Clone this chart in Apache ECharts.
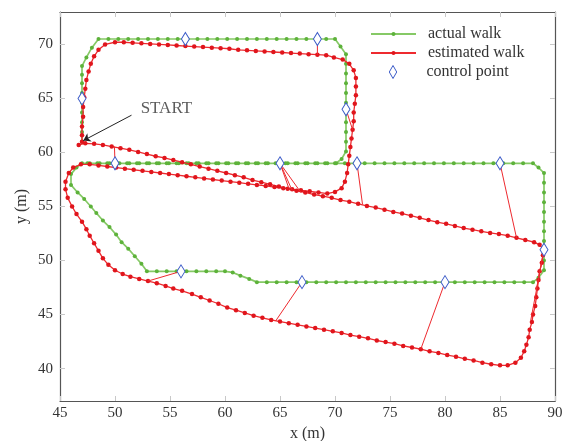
<!DOCTYPE html>
<html><head><meta charset="utf-8">
<script src="https://cdn.jsdelivr.net/npm/echarts@6/dist/echarts.min.js"></script>
<style>html,body{margin:0;padding:0;background:#fff}#c{width:563px;height:441px}</style>
</head><body><div id="c"></div>
<script>
const xTicks = [45, 50, 55, 60, 65, 70, 75, 80, 85, 90];
const yTicks = [40, 45, 50, 55, 60, 65, 70];

const actualWalk = [
[47,61.0],[47,61.9],[47,62.8],[47,63.7],[47,64.6],[47,65.5],[47,66.4],[47,67.2],[47,68.0],[47.4,68.8],[47.9,69.7],[48.5,70.5],
[49.4,70.5],[50.3,70.5],[51.2,70.5],[52.1,70.5],[53.0,70.5],[53.9,70.5],[54.8,70.5],[55.7,70.5],[56.6,70.5],[57.5,70.5],[58.4,70.5],[59.3,70.5],[60.2,70.5],[61.1,70.5],[62.0,70.5],[62.9,70.5],[63.8,70.5],[64.7,70.5],[65.6,70.5],[66.5,70.5],[67.4,70.5],[68.3,70.5],[69.2,70.5],[70.0,70.5],
[70.5,69.8],[71,69.1],[71,68.2],[71,67.3],[71,66.4],[71,65.5],[71,64.6],[71,63.7],[71,62.8],[71,61.9],[71,61.0],[71,60.1],[70.6,59.4],[70.1,59.0],
[69.3,59],[68.4,59],[67.5,59],[66.6,59],[65.7,59],[64.8,59],[63.9,59],[63.0,59],[62.1,59],[61.2,59],[60.3,59],[59.4,59],[58.5,59],[57.6,59],[56.7,59],[55.8,59],[54.9,59],[54.0,59],[53.1,59],[52.2,59],[51.3,59],[50.4,59],[49.5,59],[48.6,59],[47.7,59],[47.0,59.0],
[46.5,58.6],[46.0,58.0],[46.0,57.0],
[46.6,56.3],[47.2,55.7],[47.8,55.0],[48.3,54.4],[48.9,53.7],[49.5,53.1],[50.1,52.4],[50.6,51.7],[51.2,51.1],[51.8,50.4],[52.4,49.7],[52.9,49.0],
[53.8,49],[54.7,49],[55.6,49],[56.5,49],[57.4,49],[58.3,49],[59.2,49],[60.0,49],[60.7,48.9],[61.4,48.6],[62.2,48.3],[62.9,48.0],
[63.8,48],[64.7,48],[65.6,48],[66.5,48],[67.4,48],[68.3,48],[69.2,48],[70.1,48],[71.0,48],[71.9,48],[72.8,48],[73.7,48],[74.6,48],[75.5,48],[76.4,48],[77.3,48],[78.2,48],[79.1,48],[80.0,48],[80.9,48],[81.8,48],[82.7,48],[83.6,48],[84.5,48],[85.4,48],[86.3,48],[87.2,48],[88.0,48.0],
[88.5,48.4],[89,49.1],[89,50.0],[89,50.9],[89,51.8],[89,52.7],[89,53.6],[89,54.5],[89,55.4],[89,56.3],[89,57.2],[89,58.1],[88.5,58.6],[88.0,59.0],
[87.1,59],[86.2,59],[85.3,59],[84.4,59],[83.5,59],[82.6,59],[81.7,59],[80.8,59],[79.9,59],[79.0,59],[78.1,59],[77.2,59],[76.3,59],[75.4,59],[74.5,59],[73.6,59],[72.7,59],[71.8,59],[70.9,59],[70.0,59],[69.1,59],[68.2,59],[67.3,59],[66.4,59],[65.5,59],[64.6,59],[63.7,59],[62.8,59],[61.9,59],[61.0,59],[60.1,59],[59.2,59],[58.3,59],[57.4,59],[56.5,59],[55.6,59],[54.7,59],[53.8,59],[52.9,59],[52.0,59],[51.1,59],[50.2,59],[49.3,59],[48.4,59],[47.5,59]
];

const estimatedWalk = [
[47.0,61.0],[47.0,61.6],[47.0,62.4],[47.1,63.3],[47.1,64.2],[47.2,65.1],[47.3,65.9],[47.4,66.7],[47.6,67.5],[47.8,68.2],[48.1,68.9],[48.5,69.5],[49.1,70.0],[50.0,70.2],[50.8,70.2],
[51.6,70.15],[52.4,70.1],[53.2,70.05],[54.0,70.0],[54.8,69.95],[55.6,69.9],[56.4,69.85],[57.2,69.8],[58.0,69.75],[58.8,69.7],[59.6,69.65],[60.4,69.6],[61.2,69.5],[62.0,69.45],[62.8,69.4],[63.6,69.35],[64.4,69.3],[65.2,69.25],[66.0,69.2],[66.8,69.15],[67.6,69.1],[68.4,69.05],[69.2,69.0],
[69.9,68.8],[70.7,68.6],[71.3,68.2],[71.7,67.6],[71.9,66.9],[71.9,66.1],[71.9,65.3],[71.8,64.5],[71.7,63.7],[71.7,62.9],[71.6,62.1],[71.5,61.3],[71.4,60.5],[71.3,59.7],[71.2,58.9],[71.1,58.1],[70.9,57.3],[70.6,56.7],[70.0,56.35],[69.3,56.2],
[68.5,56.3],[67.7,56.4],[66.9,56.5],[66.1,56.6],[65.3,56.7],[64.5,56.8],[63.7,56.9],[62.9,57.0],[62.1,57.1],[61.3,57.2],[60.5,57.3],[59.7,57.4],[58.9,57.5],[58.1,57.6],[57.3,57.7],[56.5,57.8],[55.7,57.9],[54.9,58.0],[54.1,58.1],[53.3,58.2],[52.5,58.3],[51.7,58.4],[50.9,58.5],[50.1,58.6],[49.3,58.7],[48.5,58.8],[47.7,58.9],
[46.9,58.9],[46.2,58.6],[45.8,58.1],[45.5,57.3],[45.5,56.6],[45.7,55.8],[46.1,55.0],[46.5,54.3],[47.0,53.6],[47.4,52.9],[47.7,52.3],[48.1,51.6],[48.5,50.9],[48.9,50.2],[49.4,49.6],[50.0,49.1],[50.7,48.75],[51.4,48.5],[52.2,48.3],[53.0,48.1],[53.8,47.9],[54.6,47.65],[55.3,47.4],[56.1,47.2],[57.0,46.9],
[57.8,46.6],[58.6,46.3],[59.4,46.0],[60.2,45.65],[61.0,45.4],[61.8,45.15],[62.6,44.9],[63.4,44.7],[64.2,44.5],[65.0,44.35],[65.8,44.2],[66.6,44.05],[67.4,43.9],[68.2,43.75],[69.0,43.6],[69.8,43.45],[70.6,43.3],[71.4,43.1],[72.2,42.95],[73.0,42.8],[73.8,42.6],[74.6,42.45],[75.4,42.3],[76.2,42.1],[77.0,41.95],[77.8,41.8],[78.6,41.6],[79.4,41.45],[80.2,41.25],[81.0,41.1],[81.8,40.9],[82.6,40.75],[83.4,40.55],[84.2,40.4],[85.0,40.3],[85.7,40.3],[86.4,40.55],[86.9,41.0],[87.2,41.6],[87.4,42.2],[87.6,42.9],[87.7,43.6],[87.9,44.3],[88.0,45.0],[88.2,45.8],[88.3,46.6],[88.4,47.4],[88.5,48.2],[88.6,49.0],[88.8,49.8],[88.9,50.5],[89.0,51.0],
[88.6,51.45],[88.1,51.7],[87.3,51.9],[86.5,52.1],[85.7,52.3],[84.9,52.45],[84.1,52.55],[83.3,52.7],[82.5,52.85],[81.7,53.0],[80.9,53.2],[80.1,53.4],[79.3,53.55],[78.5,53.75],[77.7,53.95],[76.9,54.15],[76.1,54.35],[75.3,54.5],[74.5,54.7],[73.7,54.9],[72.9,55.05],[72.1,55.25],[71.3,55.45],[70.5,55.6],[69.7,55.8],[68.9,55.95],[68.1,56.1],[67.3,56.3],[66.5,56.45],[65.7,56.65],[64.9,56.85],[64.1,57.05],[63.3,57.25],[62.5,57.45],[61.7,57.7],[60.9,57.9],[60.1,58.1],[59.3,58.3],[58.5,58.5],[57.7,58.7],[56.9,58.9],[56.1,59.1],[55.3,59.3],[54.5,59.5],[53.7,59.65],[52.9,59.85],[52.1,60.05],[51.3,60.25],[50.5,60.4],[49.7,60.55],[48.9,60.7],[48.1,60.8],[47.3,60.85],[46.7,60.7]
];

const controlPoints = [[47,65],[56.4,70.5],[68.4,70.5],[71,64],[50,59],[65,59],[72,59],[85,59],[89,51],[56,49],[67,48],[80,48]];

const controlLinks = [
[[47,65],[47.2,65.1]],
[[56.4,70.5],[56.4,69.85]],
[[68.4,70.5],[68.4,69.05]],
[[71,64],[71.6,62.1]],
[[50,59],[49.95,60.55]],
[[65,59],[65.8,56.7]],
[[65,59],[66.1,56.5]],
[[65,59],[66.9,56.3]],
[[72,59],[72.5,55.2]],
[[85,59],[86.5,52.1]],
[[89,51],[87.8,44.5]],
[[89,51],[88.3,47.3]],
[[56,49],[53.0,48.1]],
[[67,48],[64.6,44.4]],
[[80,48],[77.8,41.8]]
];

const startLabel = [52.33, 64.1];
const startArrow = [[51.5, 63.45], [47.12, 61.1]];

const FONT = "'Liberation Serif','Times New Roman',serif";
const GREEN_LINE = '#86c966', GREEN_DOT = '#5db23a';
const RED_LINE = '#ee2a2f', RED_DOT = '#e0151c';
const BLUE = '#3b5bc8';

const chart = echarts.init(document.getElementById('c'), null, {renderer: 'canvas'});

function xAx(pos, withLabels) {
  return {
    type: 'value', min: 45, max: 90, interval: 5, position: pos,
    axisLine: {show: true, onZero: false, lineStyle: {color: '#555', width: 1.2}},
    axisTick: {show: true, inside: true, length: 5, customValues: xTicks, lineStyle: {color: '#c8c8c8'}},
    axisLabel: {show: withLabels, customValues: xTicks, fontFamily: FONT, fontSize: 15, color: '#333', margin: 5},
    splitLine: {show: false},
    name: withLabels ? 'x (m)' : '', nameLocation: 'middle', nameGap: 21,
    nameTextStyle: {fontFamily: FONT, fontSize: 16, color: '#333'}
  };
}
function yAx(pos, withLabels) {
  return {
    type: 'value', min: 37, max: 73, position: pos,
    axisLine: {show: true, onZero: false, lineStyle: {color: '#555', width: 1.2}},
    axisTick: {show: true, inside: true, length: 5, customValues: yTicks, lineStyle: {color: '#c8c8c8'}},
    axisLabel: {show: withLabels, customValues: yTicks, fontFamily: FONT, fontSize: 15, color: '#333', margin: 7},
    splitLine: {show: false},
    name: withLabels ? 'y (m)' : '', nameLocation: 'middle', nameGap: 30, nameRotate: 90,
    nameMoveOverlap: false,
    nameTextStyle: {fontFamily: FONT, fontSize: 16, color: '#333'}
  };
}

const series = [
  {
    name: 'actual walk', type: 'line', data: actualWalk, z: 2,
    symbol: 'circle', symbolSize: 4, showSymbol: true, showAllSymbol: true,
    lineStyle: {color: GREEN_LINE, width: 1.7},
    itemStyle: {color: GREEN_DOT}
  },
  {
    name: 'estimated walk', type: 'line', data: estimatedWalk, z: 3,
    symbol: 'circle', symbolSize: 4.5, showSymbol: true, showAllSymbol: true,
    lineStyle: {color: RED_LINE, width: 1.3},
    itemStyle: {color: RED_DOT}
  }
];
controlLinks.forEach(function (seg) {
  series.push({
    type: 'line', data: seg, z: 4, silent: true, showSymbol: false, symbol: 'none',
    lineStyle: {color: RED_LINE, width: 1}
  });
});
series.push({
  name: 'control point', type: 'scatter', data: controlPoints, z: 10,
  symbol: 'diamond', symbolSize: [8, 13],
  itemStyle: {color: '#ffffff', borderColor: BLUE, borderWidth: 1, opacity: 1}
});
series.push({
  type: 'lines', coordinateSystem: 'cartesian2d', z: 11, silent: true,
  data: [{coords: startArrow}],
  symbol: ['none', 'arrow'], symbolSize: 7,
  lineStyle: {color: '#222', width: 1, opacity: 1}
});
series.push({
  type: 'scatter', data: [startLabel], symbolSize: 0, z: 11, silent: true,
  label: {show: true, formatter: 'START', position: 'right', distance: 0,
          fontFamily: FONT, fontSize: 17, color: '#333'}
});

const legendBase = {
  orient: 'vertical', left: 370, padding: 0, itemWidth: 45, selectedMode: false,
  textStyle: {fontFamily: FONT, fontSize: 16, color: '#333', padding: [0, 0, 0, 7]}
};

chart.setOption({
  animation: false,
  backgroundColor: '#fff',
  grid: {left: 60, right: 8, top: 12, bottom: 40, containLabel: false, outerBoundsMode: 'none'},
  xAxis: [xAx('bottom', true), xAx('top', false)],
  yAxis: [yAx('left', true), yAx('right', false)],
  legend: [
    Object.assign({}, legendBase, {top: 26, itemHeight: 5, data: ['actual walk']}),
    Object.assign({}, legendBase, {top: 45, itemHeight: 5, data: ['estimated walk']}),
    Object.assign({}, legendBase, {top: 64, left: 388.8, itemHeight: 13,
      data: [{name: 'control point', icon: 'path://M4,0L8,7L4,14L0,7Z',
              itemStyle: {color: '#ffffff', borderColor: BLUE, borderWidth: 1}}],
      textStyle: {fontFamily: FONT, fontSize: 16, color: '#333', padding: [0, 0, 0, 6]}})
  ],
  series: series
});
</script>
</body></html>
